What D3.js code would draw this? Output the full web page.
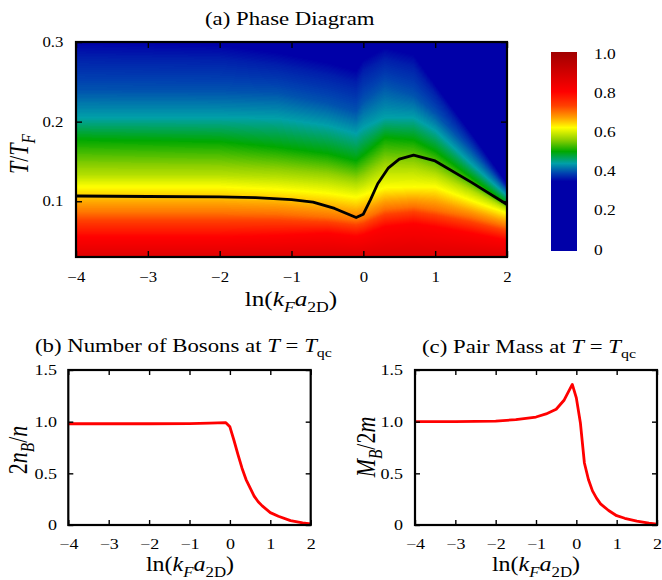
<!DOCTYPE html>
<html>
<head>
<meta charset="utf-8">
<script src="https://cdn.jsdelivr.net/npm/d3@7"></script>
<style>
  body { margin: 0; background: #fff; }
  svg { display: block; }
</style>
</head>
<body>
<svg id="fig" width="662" height="580"></svg>
<script>
// ---- panel (a): colour field, given as the T where the field crosses each level
var heatX = [-4, -2, -1.2, -0.5, -0.1, 0, 0.3, 0.7, 1.0, 1.5, 2.0];
var tAt087 = [0.030, 0.030, 0.030, 0.030, 0.030, 0.030, 0.030, 0.030, 0.030, 0.030, 0.030];
var tAt080 = [0.055, 0.055, 0.057, 0.060, 0.056, 0.058, 0.068, 0.072, 0.068, 0.060, 0.051];
var tAt070 = [0.085, 0.085, 0.084, 0.080, 0.076, 0.078, 0.090, 0.093, 0.089, 0.080, 0.068];
var tAt062 = [0.118, 0.118, 0.115, 0.110, 0.105, 0.108, 0.117, 0.118, 0.118, 0.101, 0.085];
var tAt058 = [0.133, 0.133, 0.131, 0.127, 0.121, 0.124, 0.140, 0.140, 0.134, 0.113, 0.091];
var tAt050 = [0.177, 0.175, 0.168, 0.160, 0.151, 0.158, 0.180, 0.177, 0.163, 0.130, 0.097];
var tAt044 = [0.205, 0.205, 0.204, 0.195, 0.185, 0.192, 0.205, 0.205, 0.189, 0.147, 0.107];
var tAt040 = [0.239, 0.238, 0.236, 0.223, 0.212, 0.225, 0.245, 0.233, 0.210, 0.164, 0.114];
var tAt037 = [0.280, 0.278, 0.270, 0.258, 0.248, 0.262, 0.278, 0.268, 0.235, 0.177, 0.118];
var tAt034 = [0.310, 0.305, 0.295, 0.282, 0.272, 0.285, 0.300, 0.292, 0.252, 0.190, 0.125];
var levels = [0.87, 0.80, 0.70, 0.62, 0.58, 0.50, 0.44, 0.40, 0.37, 0.34];
var levelT = [tAt087, tAt080, tAt070, tAt062, tAt058, tAt050, tAt044, tAt040, tAt037, tAt034];

// critical temperature line
var tcX = [-4, -3, -2, -1.5, -1, -0.7, -0.4, -0.1, 0, 0.1, 0.2, 0.35, 0.5, 0.7, 1.0, 1.5, 2.0];
var tcT = [0.1066, 0.106, 0.1054, 0.1045, 0.102, 0.099, 0.091, 0.0795, 0.0837, 0.102, 0.122, 0.142, 0.153, 0.158, 0.1506, 0.124, 0.096];

// palette
var palV = [0, 0.35, 0.39, 0.44, 0.50, 0.56, 0.62, 0.67, 0.73, 0.80, 1.0];
var palC = ["#0000a8", "#0000a8", "#0040b0", "#00a0a8", "#00a800", "#90d000", "#ffff00", "#ffa000", "#ff4000", "#ff0000", "#a00000"];
var cbarTicks = [0, 0.2, 0.4, 0.6, 0.8, 1.0];

// ---- panel (b)
var bosX = [-4, -3, -2, -1, -0.5, -0.1, 0, 0.1, 0.2, 0.3, 0.4, 0.5, 0.6, 0.7, 0.8, 1.0, 1.2, 1.5, 1.8, 2.0];
var bosY = [0.98, 0.98, 0.98, 0.982, 0.985, 0.99, 0.95, 0.82, 0.68, 0.55, 0.44, 0.36, 0.28, 0.225, 0.185, 0.12, 0.085, 0.042, 0.02, 0.01];

// ---- panel (c)
var massX = [-4, -3, -2, -1.5, -1, -0.75, -0.5, -0.3, -0.1, 0, 0.1, 0.2, 0.3, 0.4, 0.5, 0.6, 0.8, 1.0, 1.2, 1.5, 1.8, 2.0];
var massY = [1.0, 1.0, 1.005, 1.02, 1.045, 1.075, 1.12, 1.21, 1.36, 1.23, 0.99, 0.6, 0.44, 0.33, 0.26, 0.205, 0.14, 0.09, 0.065, 0.037, 0.018, 0.008];

var xTicks = [-4, -3, -2, -1, 0, 1, 2];

var SX = 1.2;   // figure is stretched horizontally
var FONT = "'Liberation Serif', 'Times New Roman', serif";
var svg = d3.select("#fig");

function fmtX(d) { return d < 0 ? "\u2212" + (-d) : String(d); }
function fmtY(d) { return d === 0 ? "0" : d.toFixed(1); }

// text made of pieces: {t, i (italic), s (subscript)}
function mathText(x, y, parts, size, rotate, anchor) {
  var t = svg.append("text")
    .attr("transform", "translate(" + x + "," + y + ") scale(" + SX + ",1)" + (rotate ? " rotate(-90)" : ""))
    .attr("font-family", FONT)
    .attr("font-size", size)
    .attr("text-anchor", anchor || "middle")
    .attr("fill", "#000");
  var down = false;
  parts.forEach(function (p) {
    var sp = t.append("tspan").text(p.t);
    if (p.i) sp.attr("font-style", "italic");
    if (p.s) {
      sp.attr("font-size", size * 0.7);
      if (!down) { sp.attr("dy", size * 0.28); down = true; }
    } else if (down) {
      sp.attr("dy", -size * 0.28); down = false;
    }
  });
  return t;
}

function styleAxis(g, size) {
  g.select(".domain").remove();
  g.selectAll(".tick line").attr("stroke", "#000").attr("stroke-width", 1.4);
  g.selectAll(".tick text")
    .attr("font-family", FONT)
    .attr("font-size", size)
    .attr("fill", "#000")
    .attr("transform", "scale(" + SX + ",1)");
}

function frame(x, y, yTicks, size, padX, padY, tick) {
  var r = x.range(), q = y.range();
  svg.append("g").attr("transform", "translate(0," + q[0] + ")")
    .call(d3.axisBottom(x).tickValues(xTicks).tickFormat(fmtX).tickSize(-tick).tickPadding(padX))
    .call(styleAxis, size);
  svg.append("g").attr("transform", "translate(0," + q[1] + ")")
    .call(d3.axisTop(x).tickValues(xTicks).tickFormat("").tickSize(-tick))
    .call(styleAxis, size);
  svg.append("g").attr("transform", "translate(" + r[0] + ",0)")
    .call(d3.axisLeft(y).tickValues(yTicks).tickFormat(fmtY).tickSize(-tick).tickPadding(padY))
    .call(styleAxis, size);
  svg.append("g").attr("transform", "translate(" + r[1] + ",0)")
    .call(d3.axisRight(y).tickValues(yTicks).tickFormat("").tickSize(-tick))
    .call(styleAxis, size);
  svg.append("rect")
    .attr("x", r[0]).attr("y", q[1])
    .attr("width", r[1] - r[0]).attr("height", q[0] - q[1])
    .attr("fill", "none").attr("stroke", "#000").attr("stroke-width", 2.2);
}

var xLabel = [{t: "ln("}, {t: "k", i: 1}, {t: "F", i: 1, s: 1}, {t: "a", i: 1}, {t: "2D", s: 1}, {t: ")"}];

// ================= panel (a)
var xA = d3.scaleLinear().domain([-4, 2]).range([76, 507]);
var yA = d3.scaleLinear().domain([0.03, 0.3]).range([257, 42]);
var color = d3.scaleLinear().domain(palV).range(palC).clamp(true);

(function drawHeat() {
  var w = Math.round(xA.range()[1] - xA.range()[0]);
  var h = Math.round(yA.range()[0] - yA.range()[1]);
  var cv = document.createElement("canvas");
  cv.width = w; cv.height = h;
  var ctx = cv.getContext("2d");
  var img = ctx.createImageData(w, h);
  var lvScales = levelT.map(function (a) { return d3.scaleLinear().domain(heatX).range(a); });
  var lut = d3.range(501).map(function (i) { return d3.rgb(color(i / 500)); });
  for (var px = 0; px < w; px++) {
    var xv = xA.invert(xA.range()[0] + px + 0.5);
    var ts = lvScales.map(function (s) { return s(xv); });
    for (var py = 0; py < h; py++) {
      var tv = yA.invert(yA.range()[1] + py + 0.5), v;
      if (tv <= ts[0]) v = levels[0];
      else if (tv >= ts[ts.length - 1]) v = levels[levels.length - 1];
      else {
        for (var k = 1; k < ts.length; k++) {
          if (tv <= ts[k]) {
            var f = (tv - ts[k - 1]) / (ts[k] - ts[k - 1]);
            v = levels[k - 1] + f * (levels[k] - levels[k - 1]);
            break;
          }
        }
      }
      var c = lut[Math.round(v * 500)];
      var o = (py * w + px) * 4;
      img.data[o] = c.r; img.data[o + 1] = c.g; img.data[o + 2] = c.b; img.data[o + 3] = 255;
    }
  }
  ctx.putImageData(img, 0, 0);
  svg.append("image")
    .attr("x", xA.range()[0]).attr("y", yA.range()[1])
    .attr("width", w).attr("height", h)
    .attr("preserveAspectRatio", "none")
    .attr("href", cv.toDataURL());
})();

svg.append("clipPath").attr("id", "clipA").append("rect")
  .attr("x", 76).attr("y", 42).attr("width", 431).attr("height", 215);

svg.append("path")
  .datum(d3.zip(tcX, tcT))
  .attr("clip-path", "url(#clipA)")
  .attr("fill", "none").attr("stroke", "#000").attr("stroke-width", 2.8)
  .attr("stroke-linejoin", "round")
  .attr("d", d3.line().x(function (d) { return xA(d[0]); }).y(function (d) { return yA(d[1]); }));

frame(xA, yA, [0.1, 0.2, 0.3], 14, 15, 10.5, 6);

mathText(205, 25, [{t: "(a) Phase Diagram"}], 19, false, "start");
mathText(291, 306, xLabel, 21, false);
mathText(28, 154, [{t: "T", i: 1}, {t: "/"}, {t: "T", i: 1}, {t: "F", i: 1, s: 1}], 22, true);

// colour bar
var cbY = d3.scaleLinear().domain([0, 1]).range([251, 52]);
var grad = svg.append("defs").append("linearGradient").attr("id", "cbar")
  .attr("x1", 0).attr("y1", 1).attr("x2", 0).attr("y2", 0);
palV.forEach(function (v, i) {
  grad.append("stop").attr("offset", v).attr("stop-color", palC[i]);
});
svg.append("rect").attr("x", 551).attr("y", cbY(1)).attr("width", 26)
  .attr("height", cbY(0) - cbY(1)).attr("fill", "url(#cbar)");
var cbL = d3.scaleLinear().domain([0, 1]).range([249.5, 54]);
svg.append("g").selectAll("text").data(cbarTicks).join("text")
  .attr("transform", function (d) { return "translate(594," + cbL(d) + ") scale(" + SX + ",1)"; })
  .attr("dy", "0.35em")
  .attr("font-family", FONT).attr("font-size", 14.5)
  .text(fmtY);

// ================= panel (b)
var xB = d3.scaleLinear().domain([-4, 2]).range([68.3, 310.7]);
var yB = d3.scaleLinear().domain([0, 1.5]).range([525, 370]);
svg.append("path")
  .datum(d3.zip(bosX, bosY))
  .attr("fill", "none").attr("stroke", "#ff0000").attr("stroke-width", 2.8)
  .attr("stroke-linejoin", "round")
  .attr("d", d3.line().x(function (d) { return xB(d[0]); }).y(function (d) { return yB(d[1]); }));
frame(xB, yB, [0, 0.5, 1.0, 1.5], 15, 13.5, 9.5, 5);
mathText(35, 352, [{t: "(b) Number of Bosons at "}, {t: "T", i: 1}, {t: " = "}, {t: "T", i: 1}, {t: "qc", s: 1}], 19, false, "start");
mathText(190, 571, xLabel, 20, false);
mathText(27, 450, [{t: "2"}, {t: "n", i: 1}, {t: "B", i: 1, s: 1}, {t: "/"}, {t: "n", i: 1}], 22, true);

// ================= panel (c)
var xC = d3.scaleLinear().domain([-4, 2]).range([415, 657]);
var yC = d3.scaleLinear().domain([0, 1.5]).range([525, 370]);
svg.append("path")
  .datum(d3.zip(massX, massY))
  .attr("fill", "none").attr("stroke", "#ff0000").attr("stroke-width", 2.8)
  .attr("stroke-linejoin", "round")
  .attr("d", d3.line().x(function (d) { return xC(d[0]); }).y(function (d) { return yC(d[1]); }));
frame(xC, yC, [0, 0.5, 1.0, 1.5], 15, 13.5, 10, 5);
mathText(422, 353, [{t: "(c) Pair Mass at "}, {t: "T", i: 1}, {t: " = "}, {t: "T", i: 1}, {t: "qc", s: 1}], 19, false, "start");
mathText(536, 571, xLabel, 20, false);
mathText(375, 447, [{t: "M", i: 1}, {t: "B", i: 1, s: 1}, {t: "/2"}, {t: "m", i: 1}], 22, true);
</script>
</body>
</html>
